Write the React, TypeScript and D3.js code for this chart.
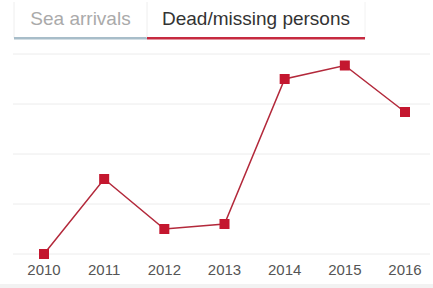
import React from "react";
import * as d3 from "d3";

const years = ["2010", "2011", "2012", "2013", "2014", "2015", "2016"];
const deadMissing = [0, 1500, 500, 600, 3500, 3770, 2840];
const gridValues = [0, 1000, 2000, 3000, 4000];
const tabs = ["Sea arrivals", "Dead/missing persons"];

const W = 433;
const H = 288;
const font = "'Liberation Sans', Arial, Helvetica, sans-serif";

const App = () => {
  const x = d3.scalePoint<string>().domain(years).range([44, 405]);
  const y = d3.scaleLinear().domain([0, 4000]).range([254, 54]);

  const line = d3
    .line<number>()
    .x((_, i) => x(years[i]) as number)
    .y((d) => y(d));

  const tabX = d3.scaleOrdinal<string, number>().domain(tabs).range([14, 147]);
  const tabW = d3.scaleOrdinal<string, number>().domain(tabs).range([133, 218]);

  return (
    <svg
      width={W}
      height={H}
      style={{ position: "absolute", left: 0, top: 0, background: "#fff" }}
    >
      {/* tabs */}
      {tabs.map((t, i) => {
        const tx = tabX(t);
        const tw = tabW(t);
        return (
          <g key={t}>
            <line x1={tx} x2={tx} y1={2} y2={38} stroke="#eee" />
            {i === tabs.length - 1 && (
              <line x1={tx + tw} x2={tx + tw} y1={2} y2={38} stroke="#f2f2f2" />
            )}
            <rect
              x={tx}
              y={37}
              width={tw}
              height={2.5}
              fill={i === 0 ? "#a8bdc9" : "#c62a40"}
            />
            <text
              x={tx + tw / 2}
              y={25}
              textAnchor="middle"
              fontFamily={font}
              fontSize={19}
              fill={i === 0 ? "#aaa" : "#333"}
            >
              {t}
            </text>
          </g>
        );
      })}

      {/* grid */}
      {gridValues.map((v) => (
        <line key={v} x1={13} x2={430} y1={y(v)} y2={y(v)} stroke="#ececec" />
      ))}

      {/* series */}
      <path d={line(deadMissing) || ""} fill="none" stroke="#b3293b" strokeWidth={1.5} />
      {deadMissing.map((d, i) => (
        <rect
          key={years[i]}
          x={(x(years[i]) as number) - 5}
          y={y(d) - 5}
          width={10}
          height={10}
          fill="#c4172f"
        />
      ))}

      {/* x labels */}
      {years.map((yr) => (
        <text
          key={yr}
          x={x(yr)}
          y={275}
          textAnchor="middle"
          fontFamily={font}
          fontSize={15}
          fill="#555"
        >
          {yr}
        </text>
      ))}

      <rect x={0} y={284} width={W} height={4} fill="#f2f2f2" />
    </svg>
  );
};

export default App;
